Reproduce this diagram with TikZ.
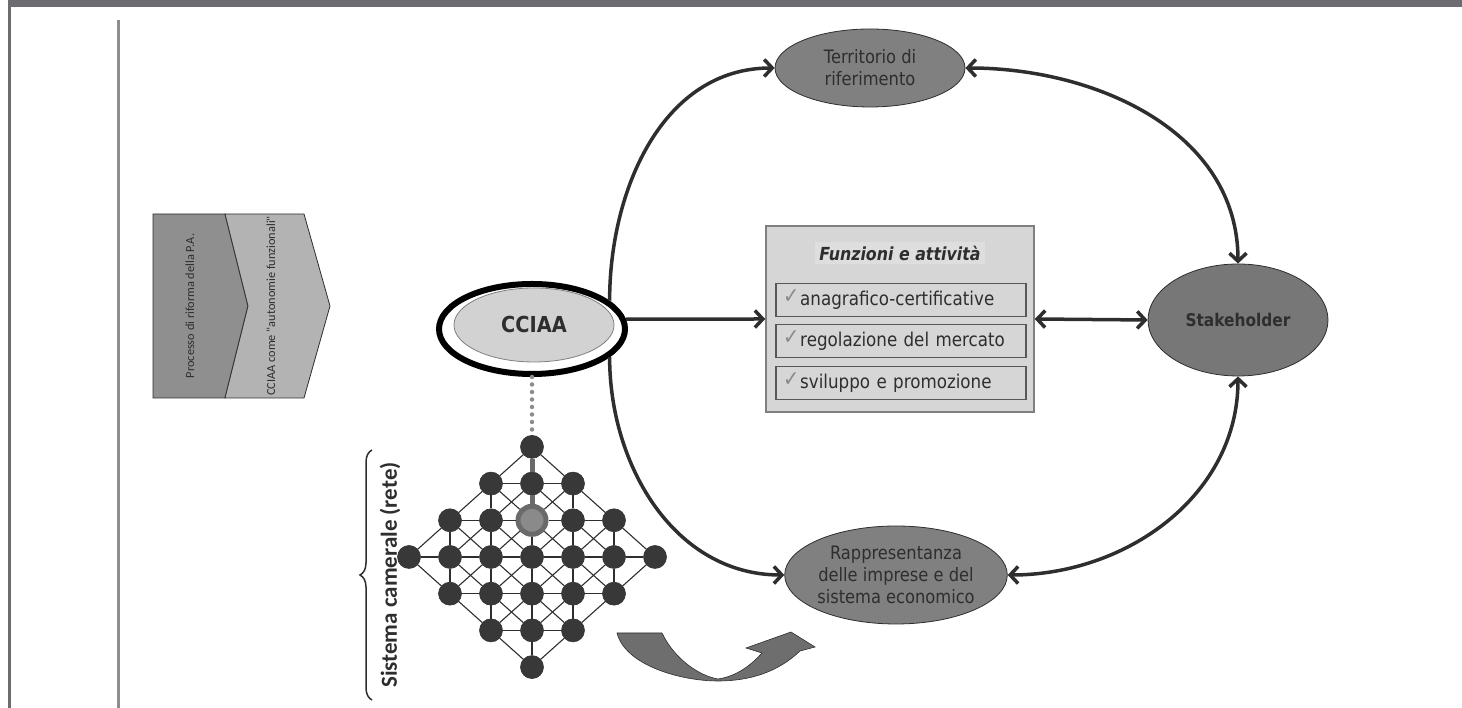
\documentclass[tikz,border=0pt]{standalone}
\usepackage{fontspec}
\setmainfont{DejaVu Sans}
\newfontfamily\tahoma[FakeStretch=0.88]{DejaVu Sans}
\newfontfamily\calibri{Carlito}
\usepackage{xcolor}
\usetikzlibrary{arrows.meta, positioning, decorations.pathreplacing,
                calc, shapes.geometric}

\definecolor{framegray}{HTML}{6C6C71}
\definecolor{rulegray}{HTML}{8E8E8E}
\definecolor{ink}{HTML}{2E2E2E}
\definecolor{chevdark}{HTML}{8F8F8F}
\definecolor{chevlight}{HTML}{B3B3B3}
\definecolor{ovalgray}{HTML}{808080}
\definecolor{stakegray}{HTML}{777777}
\definecolor{panelgray}{HTML}{D6D6D6}
\definecolor{titlegray}{HTML}{DEDEDE}
\definecolor{innergray}{HTML}{D2D2D2}
\definecolor{ticgray}{HTML}{8A8A8A}
\definecolor{dotgray}{HTML}{8C8C8C}
\definecolor{netgray}{HTML}{383838}
\definecolor{hubgray}{HTML}{8A8A8A}
\definecolor{hubring}{HTML}{6A6A6A}
\definecolor{swooshgray}{HTML}{6E6E6E}

\newcommand{\tickmark}{\textcolor{ticgray}{\raisebox{2pt}{\fontsize{22}{22}\selectfont ✓}}\kern1pt}

\begin{document}
\begin{tikzpicture}[x=1pt, y=1pt,
  conn/.style={line width=3.5pt, draw=ink, -{Straight Barb[length=8pt, width=17pt]}},
  both/.style={conn, {Straight Barb[length=8pt, width=17pt]}-{Straight Barb[length=8pt, width=17pt]}},
  oval/.style={ellipse, draw=ink, line width=0.8pt, fill=ovalgray, inner sep=0pt,
               align=center, text=ink, font=\tahoma\fontsize{18.5}{22}\selectfont},
  item/.style={draw=ink!80, fill=panelgray, line width=1.2pt, minimum width=250pt,
               minimum height=33pt, text width=236pt, align=left, inner xsep=7pt,
               text=ink, font=\tahoma\fontsize{19}{23}\selectfont},
  netnode/.style={circle, fill=netgray, draw=black!80, line width=0.6pt,
                  minimum size=23pt, inner sep=0pt},
  hubnode/.style={circle, fill=hubgray, draw=hubring, line width=5pt,
                  minimum size=28pt, inner sep=0pt},
  netlink/.style={draw=ink, line width=1.1pt},
  uplink/.style={draw=hubring, line width=5pt},
  dotlink/.style={draw=dotgray, line width=4.5pt, line cap=round, dash pattern=on 0pt off 7.5pt},
  chevtext/.style={rotate=90, text=ink, font=\calibri\fontsize{12.3}{14}\selectfont}
]
  \useasboundingbox (0,0) rectangle (1462,708);

  % page frame
  \fill[framegray] (8,701) rectangle (1462,708);
  \fill[framegray] (8,0) rectangle (11,708);
  \fill[rulegray] (117,0) rectangle (120,688);

  % chevrons
  \draw[ink, line width=0.8pt, fill=chevdark]
    (153,494) -- (225,494) -- (248,402) -- (225,310) -- (153,310) -- cycle;
  \draw[ink, line width=0.8pt, fill=chevlight]
    (225,494) -- (304,494) -- (330,402) -- (304,310) -- (225,310) -- (248,402) -- cycle;
  \node[chevtext] (reform) at (190,402) {Processo di riforma della P.A.};
  \node[chevtext] (autonomy) at (271,402) {CCIAA come "autonomie funzionali"};

  % CCIAA
  \node[ellipse, draw=black, line width=6pt, minimum width=186pt,
        minimum height=90pt, inner sep=0pt] (ring) at (532,379) {};
  \node[ellipse, draw=gray, line width=0.8pt, fill=innergray, minimum width=160pt,
        minimum height=74pt, inner sep=0pt, text=ink,
        font=\tahoma\bfseries\fontsize{22}{26}\selectfont] (cciaa) at (534,383) {CCIAA};

  % functions panel
  \node[draw=gray, fill=panelgray, line width=1.5pt, minimum width=268pt,
        minimum height=186pt] (panel) at (900,389) {};
  \node[fill=titlegray, inner sep=4pt, text=ink,
        font=\tahoma\bfseries\itshape\fontsize{18}{22}\selectfont] (title) at (900,455) {Funzioni e attività};
  \node[item] (registry) at (901,408) {\tickmark anagrafico-certificative};
  \node[item] (market) at (901,367) {\tickmark regolazione del mercato};
  \node[item] (growth) at (901,325) {\tickmark sviluppo e promozione};

  % ovals
  \node[oval, minimum width=190pt, minimum height=78pt] (terr) at (870,640) {Territorio di\\riferimento};
  \node[oval, fill=stakegray, minimum width=180pt, minimum height=112pt,
        font=\tahoma\bfseries\fontsize{17.5}{20}\selectfont] (stake) at (1238,388) {Stakeholder};
  \node[oval, minimum width=200pt, minimum height=98pt] (rapp) at (896,133)
    {Rappresentanza\\delle imprese e del\\sistema economico};

  % connectors
  \draw[conn] (ring.6) -- (panel.west);
  \draw[both] (panel.east) -- (stake.west);
  \draw[conn] (ring.20) to[out=90, in=180] (terr.west);
  \draw[conn] (ring.-20) to[out=-90, in=180] (rapp.west);
  \draw[both] (terr.east) to[out=0, in=90] (stake.north);
  \draw[both] (rapp.east) to[out=0, in=-90] (stake.south);

  % network of chambers
  \foreach \a in {0,...,6}
    \foreach \b in {0,...,6} {
      \pgfmathtruncatemacro\d{abs(\a-3)+abs(\b-3)}
      \ifnum\d<4
        \ifnum\a\b=34 \def\kind{hubnode}\else\def\kind{netnode}\fi
        \node[\kind] (n\a\b) at ({532+41*(\a-3)},{151+36.7*(\b-3)}) {};
      \fi
    }
  \foreach \a in {0,...,6}
    \foreach \b in {0,...,6}
      \foreach \da/\db in {1/0, 0/1, 1/1, -1/1} {
        \pgfmathtruncatemacro\p{abs(\a-3)+abs(\b-3)}
        \pgfmathtruncatemacro\q{abs(\a+\da-3)+abs(\b+\db-3)}
        \pgfmathtruncatemacro\na{\a+\da}
        \pgfmathtruncatemacro\nb{\b+\db}
        \ifnum\p<4 \ifnum\q<4 \draw[netlink] (n\a\b) -- (n\na\nb); \fi\fi
      }
  \draw[uplink] (n36) -- (n35) -- (n34);
  \draw[dotlink] (ring.south) -- (n36);

  % brace
  \draw[ink, line width=1.5pt, decorate, decoration={brace, amplitude=12pt}]
    (372,8) -- (372,258);
  \node[rotate=90, text=ink, font=\calibri\bfseries\fontsize{23}{27}\selectfont]
    (network) at (390,133) {Sistema camerale (rete)};

  % curved arrow
  \draw[ink, line width=0.6pt, fill=swooshgray]
    (617,75) -- (662,75) .. controls (675,48) and (700,32) .. (718,29)
    .. controls (738,32) and (752,44) .. (762,55) -- (746,60) -- (791,76)
    -- (815,61) -- (800,57) .. controls (778,36) and (750,27) .. (718,27)
    .. controls (680,27) and (625,43) .. (617,75) -- cycle;
\end{tikzpicture}
\end{document}
